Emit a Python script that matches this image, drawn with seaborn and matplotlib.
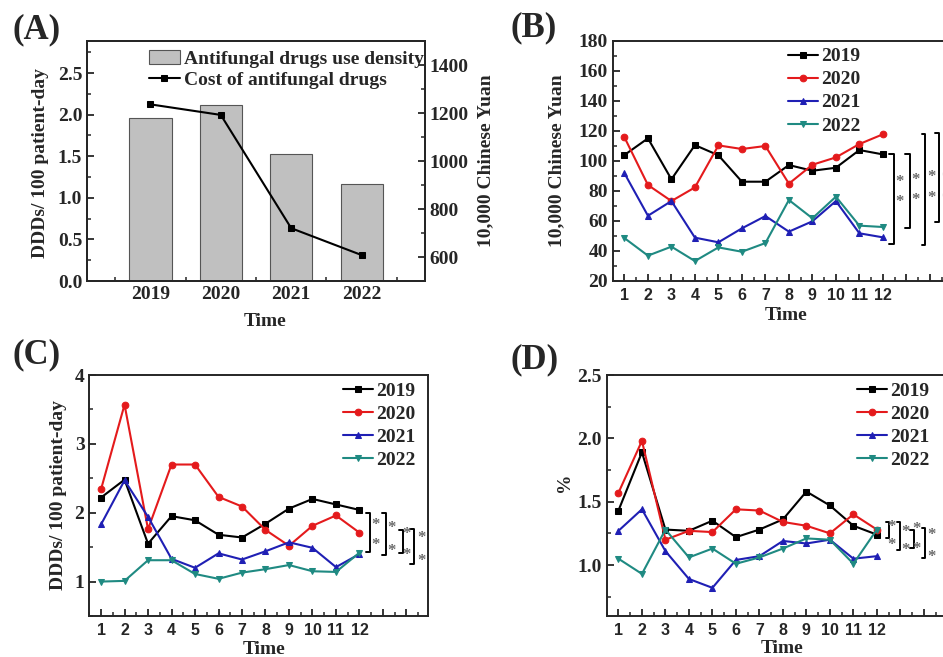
import numpy as np
import pandas as pd
import matplotlib
matplotlib.use("Agg")
import matplotlib.pyplot as plt
from matplotlib.ticker import MultipleLocator, FixedLocator
import seaborn as sns

# Panel A data
years = ["2019", "2020", "2021", "2022"]
use_density = [1.96, 2.11, 1.53, 1.17]
drug_cost = [1236, 1192, 720, 608]

# monthly data
months = list(range(1, 13))
cost_2019 = [103.8, 114.9, 87.6, 110.4, 103.6, 86.0, 86.0, 97.1, 93.3, 95.3, 107.1, 104.2]
cost_2020 = [115.6, 83.8, 73.1, 82.2, 110.2, 107.8, 109.8, 84.7, 97.3, 102.2, 111.1, 117.6]
cost_2021 = [91.6, 63.3, 73.1, 48.7, 45.6, 54.9, 63.1, 52.7, 59.6, 73.1, 51.6, 48.9]
cost_2022 = [48.4, 36.7, 42.7, 33.1, 42.2, 39.3, 45.1, 73.8, 61.6, 76.0, 56.7, 55.8]

ddd_2019 = [2.22, 2.48, 1.55, 1.95, 1.89, 1.68, 1.64, 1.84, 2.06, 2.20, 2.12, 2.04]
ddd_2020 = [2.34, 3.57, 1.76, 2.70, 2.70, 2.23, 2.09, 1.75, 1.52, 1.81, 1.96, 1.71]
ddd_2021 = [1.83, 2.47, 1.94, 1.33, 1.20, 1.41, 1.32, 1.44, 1.57, 1.49, 1.21, 1.40]
ddd_2022 = [1.00, 1.01, 1.31, 1.31, 1.11, 1.04, 1.13, 1.18, 1.24, 1.15, 1.14, 1.42]

pct_2019 = [1.43, 1.89, 1.28, 1.27, 1.35, 1.22, 1.28, 1.36, 1.58, 1.47, 1.31, 1.24]
pct_2020 = [1.57, 1.98, 1.20, 1.27, 1.26, 1.44, 1.43, 1.34, 1.31, 1.25, 1.40, 1.28]
pct_2021 = [1.27, 1.44, 1.11, 0.89, 0.82, 1.04, 1.07, 1.19, 1.17, 1.20, 1.05, 1.07]
pct_2022 = [1.05, 0.93, 1.28, 1.06, 1.13, 1.01, 1.06, 1.13, 1.21, 1.20, 1.01, 1.28]

# significance brackets: (left end, vertical x, top, bottom) and stars (x, upper y, lower y)
brackets_b = [(12.28, 12.49, 104.3, 44.5), (12.96, 13.14, 104.3, 55.1),
              (13.68, 13.81, 117.8, 43.8), (14.23, 14.37, 118.3, 59.3)]
stars_b = [(12.71, 87.1, 73.9), (13.38, 88.5, 75.2), (14.09, 90.5, 76.5), (14.66, 90.0, 76.0)]
brackets_c = [(12.29, 12.43, 2.00, 1.435), (12.95, 13.14, 2.00, 1.39),
              (13.67, 13.85, 1.75, 1.41), (14.17, 14.34, 1.76, 1.26)]
stars_c = [(12.68, 1.856, 1.566), (13.38, 1.80, 1.47), (13.99, 1.72, 1.41), (14.63, 1.66, 1.33)]
brackets_d = [(12.37, 12.50, 1.337, 1.211), (12.85, 12.99, 1.337, 1.118),
              (13.42, 13.56, 1.276, 1.132), (13.91, 14.05, 1.29, 1.053)]
stars_d = [(12.64, 1.316, 1.171), (13.24, 1.276, 1.132), (13.70, 1.302, 1.144), (14.33, 1.25, 1.079)]

year_colors = ["#000000", "#e41a1c", "#1f1fb4", "#1f8a82"]
year_markers = ["s", "o", "^", "v"]

sns.set_style("ticks")
plt.rcParams["font.family"] = ["Liberation Serif", "DejaVu Serif"]
plt.rcParams["font.weight"] = "bold"
plt.rcParams["axes.labelweight"] = "bold"
plt.rcParams["axes.linewidth"] = 1.4

W, H = 943, 657
fig = plt.figure(figsize=(W / 100, H / 100), dpi=100)


def px_axes(left, top, width, height):
    return fig.add_axes([left / W, 1 - (top + height) / H, width / W, height / H])


def style_ticks(ax):
    ax.tick_params(axis="both", which="major", direction="in", length=5, width=1.3,
                   labelsize=14)
    ax.tick_params(axis="both", which="minor", direction="in", length=3, width=1.1)


def monthly_panel(ax, series, ylim, ymaj, ymin, ylabel, brackets, stars, leg_x):
    for yr, vals, c, m in zip(years, series, year_colors, year_markers):
        sns.lineplot(x=months, y=vals, color=c, marker=m, markersize=4.8,
                     markeredgecolor=c, linewidth=1.5, label=yr, ax=ax)
    ax.set_xlim(0.5, 14.93)
    ax.set_ylim(*ylim)
    ax.yaxis.set_major_locator(MultipleLocator(ymaj))
    ax.yaxis.set_minor_locator(MultipleLocator(ymin))
    ax.xaxis.set_major_locator(FixedLocator(list(range(1, 15))))
    ax.set_xticklabels([str(m) for m in months] + ["", ""])
    ax.xaxis.set_minor_locator(MultipleLocator(0.5))
    style_ticks(ax)
    for lab in ax.get_xticklabels():
        lab.set_fontfamily("Liberation Sans")
        lab.set_fontsize(11.5)
        lab.set_fontweight("bold")
    ax.tick_params(axis="x", pad=5)
    ax.set_xlabel("Time", fontsize=14)
    ax.set_ylabel(ylabel, fontsize=14)
    for left, vx, top, bot in brackets:
        ax.plot([left, vx, vx, left], [top, top, bot, bot], color="k", lw=1.4,
                clip_on=False)
    for sx, y1, y2 in stars:
        for sy in (y1, y2):
            ax.text(sx, sy, "*", color="#6a6a6a", fontsize=12, ha="center",
                    va="center_baseline", clip_on=False)
    leg = ax.legend(loc="upper left", bbox_to_anchor=(leg_x, 0.995), frameon=False,
                    fontsize=14, handlelength=1.55, handletextpad=0.15,
                    labelspacing=0.28, borderaxespad=0.1, borderpad=0.2)
    return leg


# (A) yearly use density + cost
axA = px_axes(87, 41, 338, 240)
sns.barplot(x=years, y=use_density, color="#c0c0c0", edgecolor="#555555",
            linewidth=0.8, width=0.6, saturation=1, ax=axA,
            label="Antifungal drugs use density")
if axA.get_legend() is not None:
    axA.get_legend().remove()
axA.set_xlim(-0.9, 3.9)
axA.set_ylim(0, 2.885)
axA.yaxis.set_major_locator(MultipleLocator(0.5))
axA.yaxis.set_minor_locator(MultipleLocator(0.25))
axA.xaxis.set_minor_locator(FixedLocator([-0.5, 0.5, 1.5, 2.5, 3.5]))
style_ticks(axA)
axA.set_xlabel("Time", fontsize=14)
axA.set_ylabel("DDDs/ 100 patient-day", fontsize=14)

axA2 = axA.twinx()
sns.lineplot(x=np.arange(len(years)), y=drug_cost, color="k", marker="s",
             markersize=4.8, markeredgecolor="k", linewidth=1.5,
             label="Cost of antifungal drugs", ax=axA2)
axA2.set_ylim(500, 1500)
axA2.yaxis.set_major_locator(MultipleLocator(200))
axA2.yaxis.set_minor_locator(MultipleLocator(100))
axA2.tick_params(axis="y", which="major", direction="in", length=5, width=1.3, labelsize=14)
axA2.tick_params(axis="y", which="minor", direction="in", length=3, width=1.1)
axA2.set_ylabel("10,000 Chinese Yuan", fontsize=14)
axA2.yaxis.set_label_coords(1.154, 0.5)
axA.yaxis.set_label_coords(-0.112, 0.49)
axA.xaxis.set_label_coords(0.528, -0.133)
if axA2.get_legend() is not None:
    axA2.get_legend().remove()
hA, lA = axA.get_legend_handles_labels()
hA2, lA2 = axA2.get_legend_handles_labels()
axA2.legend(hA + hA2, lA + lA2, loc="upper left", bbox_to_anchor=(0.165, 0.985),
            frameon=False, fontsize=14, handlelength=1.6, handletextpad=0.2,
            labelspacing=0.15, borderaxespad=0.1, borderpad=0.2)

# (B) monthly cost
axB = px_axes(612.7, 40.7, 339, 240)
monthly_panel(axB, [cost_2019, cost_2020, cost_2021, cost_2022], (20, 180), 20, 10,
              "10,000 Chinese Yuan", brackets_b, stars_b, 0.5)
axB.yaxis.set_label_coords(-0.141, 0.5)
axB.xaxis.set_label_coords(0.511, -0.11)

# (C) monthly DDDs
axC = px_axes(89.3, 375, 339, 241)
monthly_panel(axC, [ddd_2019, ddd_2020, ddd_2021, ddd_2022], (0.5, 4), 1, 0.5,
              "DDDs/ 100 patient-day", brackets_c, stars_c, 0.73)
axC.yaxis.set_label_coords(-0.066, 0.5)
axC.xaxis.set_label_coords(0.515, -0.104)

# (D) monthly percentage
axD = px_axes(606.7, 375, 339, 240.7)
monthly_panel(axD, [pct_2019, pct_2020, pct_2021, pct_2022], (0.6, 2.5), 0.5, 0.25,
              "%", brackets_d, stars_d, 0.72)
axD.yaxis.set_label_coords(-0.099, 0.555)
axD.xaxis.set_label_coords(0.516, -0.103)

for lab, x, y in [("(A)", 13, 30), ("(B)", 510, 28), ("(C)", 13, 355), ("(D)", 510, 360)]:
    fig.text(x / W, 1 - y / H, lab, fontsize=25, fontweight="bold", ha="left", va="center")

fig.savefig("out.png", dpi=100)
